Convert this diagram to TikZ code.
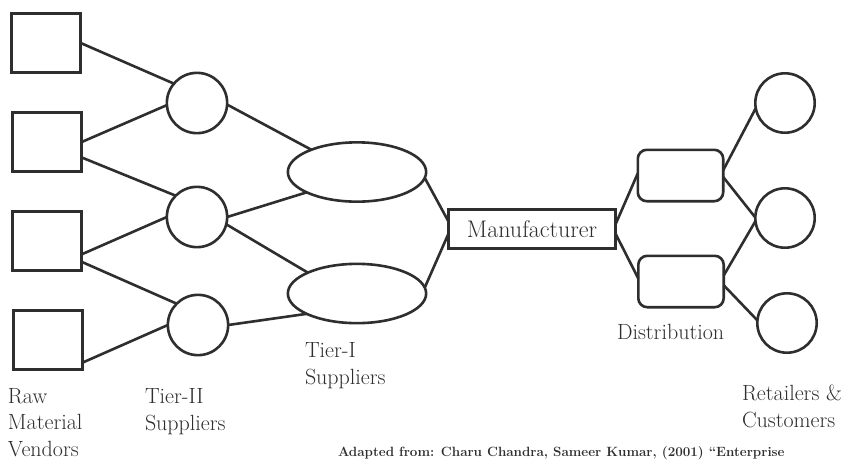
\documentclass[tikz,border=0pt]{standalone}
\usetikzlibrary{shapes.geometric}
\definecolor{ink}{HTML}{2E2E2E}
\begin{document}
\begin{tikzpicture}[x=1pt,y=-1pt,
  every node/.style={inner sep=0pt, outer sep=0pt},
  vendor/.style={draw=ink, line width=2.6pt, rectangle, minimum width=69.4pt, minimum height=58.8pt},
  tiertwo/.style={draw=ink, line width=2.6pt, circle, minimum size=60.3pt},
  tierone/.style={draw=ink, line width=2.6pt, ellipse, minimum width=138.3pt, minimum height=59.3pt},
  maker/.style={draw=ink, line width=3.2pt, rectangle, minimum width=166.8pt, minimum height=38.8pt,
    text=ink, font=\fontsize{24}{28}\selectfont},
  distbox/.style={draw=ink, line width=2.6pt, rectangle, rounded corners=9pt, minimum width=85.4pt, minimum height=51.4pt},
  retail/.style={draw=ink, line width=2.6pt, circle, minimum size=59.4pt},
  link/.style={draw=ink, line width=2.6pt},
  lbl/.style={text=ink, align=left, font=\fontsize{22}{26.5}\selectfont, anchor=base west},
  cite/.style={text=ink, font=\fontsize{13.4}{16}\selectfont\bfseries, anchor=base west}
]
\fill[white] (0,0) rectangle (851,459);
\useasboundingbox (0,0) rectangle (851,459);

% raw material vendors
\node[vendor] (s1) at (46,43) {};
\node[vendor] (s2) at (47,142) {};
\node[vendor] (s3) at (47,241) {};
\node[vendor] (s4) at (48,340) {};

% tier-II suppliers
\node[tiertwo] (c1) at (197,103) {};
\node[tiertwo] (c2) at (197,217) {};
\node[tiertwo] (c3) at (198,325) {};

% tier-I suppliers
\node[tierone] (e1) at (357,172) {};
\node[tierone] (e2) at (357,293.5) {};

% manufacturer
\node[maker] (m) at (532,229) {Manufacturer};

% distribution
\node[distbox] (d1) at (680.5,175.5) {};
\node[distbox] (d2) at (681,281.5) {};

% retailers
\node[retail] (r1) at (785,103) {};
\node[retail] (r2) at (785,218) {};
\node[retail] (r3) at (787,323) {};

% connectors
\draw[link] (s1.east) -- (c1.140);
\draw[link] (s2.east) -- (c1.184);
\draw[link] (s2.336) -- (c2.135);
\draw[link] (s3.339) -- (c2.180);
\draw[link] (s3.329) -- (c3.135);
\draw[link] (s4.327) -- (c3.180);

\draw[link] (c1.-3) -- (e1.154);
\draw[link] (c2.0) -- (e1.202);
\draw[link] (c2.-14) -- (e2.157);
\draw[link] (c3.0) -- (e2.202);

\draw[link] (e1.-5) -- (m.175);
\draw[link] (e2.5) -- (m.183);

\draw[link] (m.3) -- (d1.177);
\draw[link] (m.-3) -- (d2.176);

\draw[link] (d1.7) -- (r1.190);
\draw[link] (d1.-2) -- (r2.179);
\draw[link] (d2.8) -- (r2.186);
\draw[link] (d2.-5) -- (r3.175);

% labels (anchor = baseline of the last line)
\node[lbl] (lraw) at (8,456) {Raw\\Material\\Vendors};
\node[lbl] (ltwo) at (145,430) {Tier-II\\Suppliers};
\node[lbl] (lone) at (305,384) {Tier-I\\Suppliers};
\node[lbl] (ldist) at (617,339) {Distribution};
\node[lbl] (lret) at (742,427) {Retailers \&\\Customers};
\node[cite] (lcite) at (338,456) {Adapted from: Charu Chandra, Sameer Kumar, (2001) “Enterprise};
\end{tikzpicture}
\end{document}
